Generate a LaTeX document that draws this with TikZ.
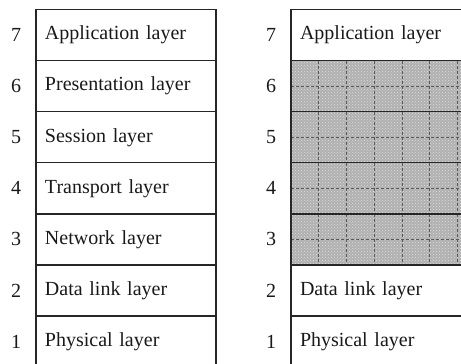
\documentclass[tikz,border=0pt]{standalone}
\usepackage{fontspec}
\setmainfont{Liberation Serif}
\usetikzlibrary{positioning, patterns}

\begin{document}
\begin{tikzpicture}[
    x=1pt, y=1pt,
    node distance=0pt,
    layer/.style={rectangle, draw=black!85, line width=1.4pt, outer sep=0pt, minimum width=180pt, minimum height=51.1pt, text width=162pt, inner xsep=9pt, inner ysep=0pt, align=left, font=\fontsize{20}{24}\selectfont, text=black!90},
    gridline/.style={densely dashed, gray!70!black, line width=0.5pt},
    hidden/.style={layer, preaction={fill=gray!62}, pattern=crosshatch dots, pattern color=gray!25,
        path picture={
            \foreach \k in {1,...,6}
                \draw[gridline] ([xshift=\k*27.7pt]path picture bounding box.north west) -- ([xshift=\k*27.7pt]path picture bounding box.south west);
            \draw[gridline] (path picture bounding box.west) -- (path picture bounding box.east);
        }},
    num/.style={font=\fontsize{20}{24}\selectfont, text=black!90}
]
\useasboundingbox (0,0) rectangle (461,364);
\clip (0,0) rectangle (461,364);

% full stack (left)
\node[layer, anchor=north west] (a7) at (36,354.5) {Application layer};
\node[layer, below=of a7] (a6) {Presentation layer};
\node[layer, below=of a6] (a5) {Session layer};
\node[layer, below=of a5] (a4) {Transport layer};
\node[layer, below=of a4] (a3) {Network layer};
\node[layer, below=of a3] (a2) {Data link layer};
\node[layer, below=of a2] (a1) {Physical layer};

% reduced stack (right), layers 3-6 hatched
\node[layer, anchor=north west] (b7) at (291,354.5) {Application layer};
\node[hidden, below=of b7] (b6) {};
\node[hidden, below=of b6] (b5) {};
\node[hidden, below=of b5] (b4) {};
\node[hidden, below=of b4] (b3) {};
\node[layer, below=of b3] (b2) {Data link layer};
\node[layer, below=of b2] (b1) {Physical layer};

% layer numbers
\node[num] (na7) at ([xshift=-20pt]a7.west) {7};
\node[num] (na6) at ([xshift=-20pt]a6.west) {6};
\node[num] (na5) at ([xshift=-20pt]a5.west) {5};
\node[num] (na4) at ([xshift=-20pt]a4.west) {4};
\node[num] (na3) at ([xshift=-20pt]a3.west) {3};
\node[num] (na2) at ([xshift=-20pt]a2.west) {2};
\node[num] (na1) at ([xshift=-20pt]a1.west) {1};

\node[num] (nb7) at ([xshift=-20pt]b7.west) {7};
\node[num] (nb6) at ([xshift=-20pt]b6.west) {6};
\node[num] (nb5) at ([xshift=-20pt]b5.west) {5};
\node[num] (nb4) at ([xshift=-20pt]b4.west) {4};
\node[num] (nb3) at ([xshift=-20pt]b3.west) {3};
\node[num] (nb2) at ([xshift=-20pt]b2.west) {2};
\node[num] (nb1) at ([xshift=-20pt]b1.west) {1};

\end{tikzpicture}
\end{document}
